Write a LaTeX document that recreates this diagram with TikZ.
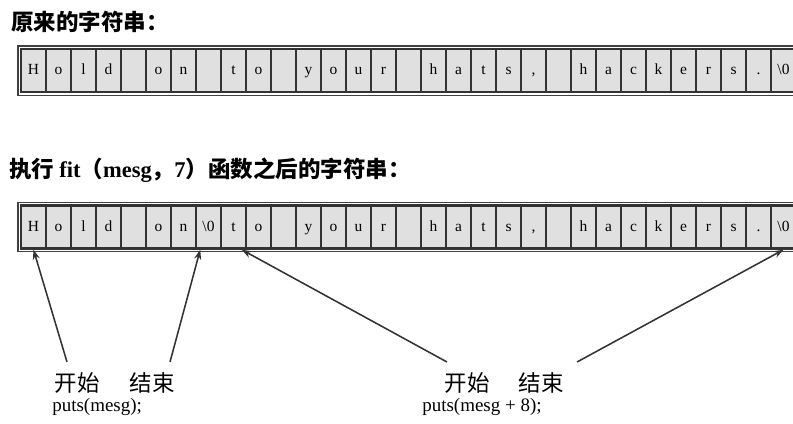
\documentclass[tikz,border=0pt]{standalone}
\usepackage{fontspec}
\setmainfont{Liberation Serif}
\newfontfamily\cjk{Noto Sans CJK SC}
\usepackage{tikz}
\usetikzlibrary{arrows.meta,positioning,calc}

\begin{document}
\begin{tikzpicture}[x=0.025cm, y=-0.025cm, >={Stealth[length=7pt,width=5pt]},
 cell/.style={draw=black!80,line width=1.7pt,fill=black!12,minimum width=0.625cm,minimum height=1.075cm,inner sep=0pt,text height=1.55ex,text depth=0.25ex,font=\fontsize{11}{12}\selectfont},
 frm/.style={draw=black!75,line width=1pt},
 ttl/.style={anchor=west,inner sep=0pt,font=\cjk\bfseries\fontsize{16}{18}\selectfont},
 lab/.style={inner sep=0pt,font=\cjk\fontsize{16}{18}\selectfont},
 code/.style={anchor=west,inner sep=0pt,font=\fontsize{13.5}{15}\selectfont},
 ptr/.style={->,line width=1.1pt,black!80}]
\useasboundingbox (0,0) rectangle (793,423);
\clip (0,0) rectangle (793,423);
\node[ttl] (title1) at (11,22) {原来的字符串：};
\foreach \c [count=\i from 0] in {H,o,l,d,{},o,n,{},t,o,{},y,o,u,r,{},h,a,t,s,{,},{},h,a,c,k,e,r,s,.,\textbackslash 0}
  \node[cell] (a\i) at ({33.5+25*\i},70.5) {\c};
\draw[frm] ([shift={(-2,-2)}]a0.north west) rectangle ([shift={(2,2)}]a30.south east);
\node[ttl] (title2) at (9,170) {执行 {\rmfamily fit}（{\rmfamily mesg}，{\rmfamily 7}）函数之后的字符串：};
\foreach \c [count=\i from 0] in {H,o,l,d,{},o,n,\textbackslash 0,t,o,{},y,o,u,r,{},h,a,t,s,{,},{},h,a,c,k,e,r,s,.,\textbackslash 0}
  \node[cell] (b\i) at ({33.5+25*\i},227) {\c};
\draw[frm] ([shift={(-2,-2)}]b0.north west) rectangle ([shift={(2,2)}]b30.south east);
\node[lab] (st1) at (77,383) {开始};
\node[lab] (en1) at (152,383) {结束};
\node[code] (put1) at (52,407) {puts(mesg);};
\node[lab] (st2) at (467,383) {开始};
\node[lab] (en2) at (541,383) {结束};
\node[code] (put2) at (422,407) {puts(mesg + 8);};
\coordinate (t1) at (67,362);
\coordinate (t2) at (170,362);
\coordinate (t3) at (447,362);
\coordinate (t4) at (577,362);
\draw[ptr] (t1) -- (b0.south);
\draw[ptr] (t2) -- (b7.250);
\draw[ptr] (t3) -- (b8.290);
\draw[ptr] (t4) -- (b30.south);
\end{tikzpicture}
\end{document}
